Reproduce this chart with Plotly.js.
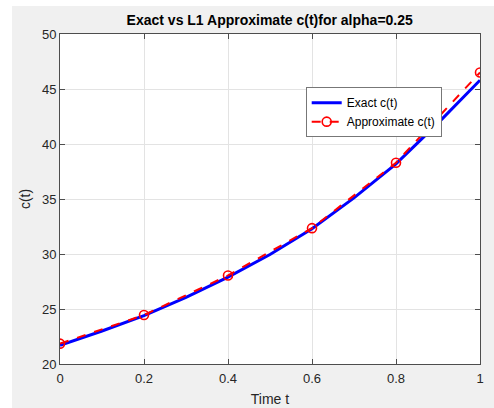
<!DOCTYPE html>
<html>
<head>
<meta charset="utf-8">
<script src="https://cdn.plot.ly/plotly-3.0.1.min.js"></script>
<style>
html,body{margin:0;padding:0;background:#ffffff;width:494px;height:408px;overflow:hidden;}
#chart{position:absolute;left:12px;top:6px;width:482px;height:402px;}
</style>
</head>
<body>
<div id="chart"></div>
<script>
// Exact solution
const tExact = [0, 0.1, 0.2, 0.3, 0.4, 0.5, 0.6, 0.7, 0.8, 0.9, 1.0];
const cExact = [21.7, 23.0, 24.4, 26.05, 27.9, 29.95, 32.3, 35.1, 38.2, 41.9, 45.8];
// L1 approximation (red dashed with circles)
const tApprox = [0, 0.2, 0.4, 0.6, 0.8, 1.0];
const cApprox = [21.85, 24.45, 28.05, 32.35, 38.3, 46.5];
// Tick labels
const xTicks = [0, 0.2, 0.4, 0.6, 0.8, 1];
const xTickText = ["0", "0.2", "0.4", "0.6", "0.8", "1"];
const yTicks = [20, 25, 30, 35, 40, 45, 50];
const yTickText = ["20", "25", "30", "35", "40", "45", "50"];

const FONT = "Liberation Sans, Arial, Helvetica, sans-serif";
const TXT = "#262626";
const AX = "#4d4d4d";

const traces = [
  {
    x: tExact, y: cExact, type: "scatter", mode: "lines",
    name: "Exact c(t)",
    line: {color: "#0000ff", width: 3}
  },
  {
    x: tApprox, y: cApprox, type: "scatter", mode: "lines+markers",
    name: "Approximate c(t)",
    line: {color: "#ff0000", width: 2, dash: "dash"},
    marker: {symbol: "circle-open", size: 9, color: "#ff0000", line: {color: "#ff0000", width: 1.6}}
  }
];

const axisCommon = {
  showline: true, mirror: "ticks", linecolor: AX, linewidth: 1,
  ticks: "inside", ticklen: 5, tickcolor: AX, tickwidth: 1,
  showgrid: true, gridcolor: "#e3e3e3", gridwidth: 1,
  zeroline: false,
  tickfont: {family: FONT, size: 13, color: TXT}
};

const layout = {
  width: 482, height: 402,
  paper_bgcolor: "#f0f0f0",
  plot_bgcolor: "#ffffff",
  margin: {l: 48, r: 14, t: 28, b: 44},
  showlegend: true,
  title: {
    text: "<b>Exact vs L1 Approximate c(t)for alpha=0.25</b>",
    font: {family: FONT, size: 14, color: "#000000"},
    x: 0.5347, xanchor: "center", y: 0.965, yanchor: "middle"
  },
  xaxis: Object.assign({}, axisCommon, {
    range: [0, 1], tickvals: xTicks, ticktext: xTickText,
    ticklabelstandoff: 2,
    title: {text: "Time t", font: {family: FONT, size: 14, color: TXT}, standoff: 9}
  }),
  yaxis: Object.assign({}, axisCommon, {
    range: [20, 50], tickvals: yTicks, ticktext: yTickText,
    title: {text: "c(t)", font: {family: FONT, size: 14, color: TXT}, standoff: 8}
  }),
  legend: {
    x: 0.585, y: 0.839, xanchor: "left", yanchor: "top",
    bgcolor: "#ffffff", bordercolor: "#777777", borderwidth: 1,
    font: {family: FONT, size: 12, color: "#000000"},
    tracegroupgap: 0, itemwidth: 30
  }
};

Plotly.newPlot("chart", traces, layout, {displayModeBar: false, staticPlot: true});
</script>
</body>
</html>
